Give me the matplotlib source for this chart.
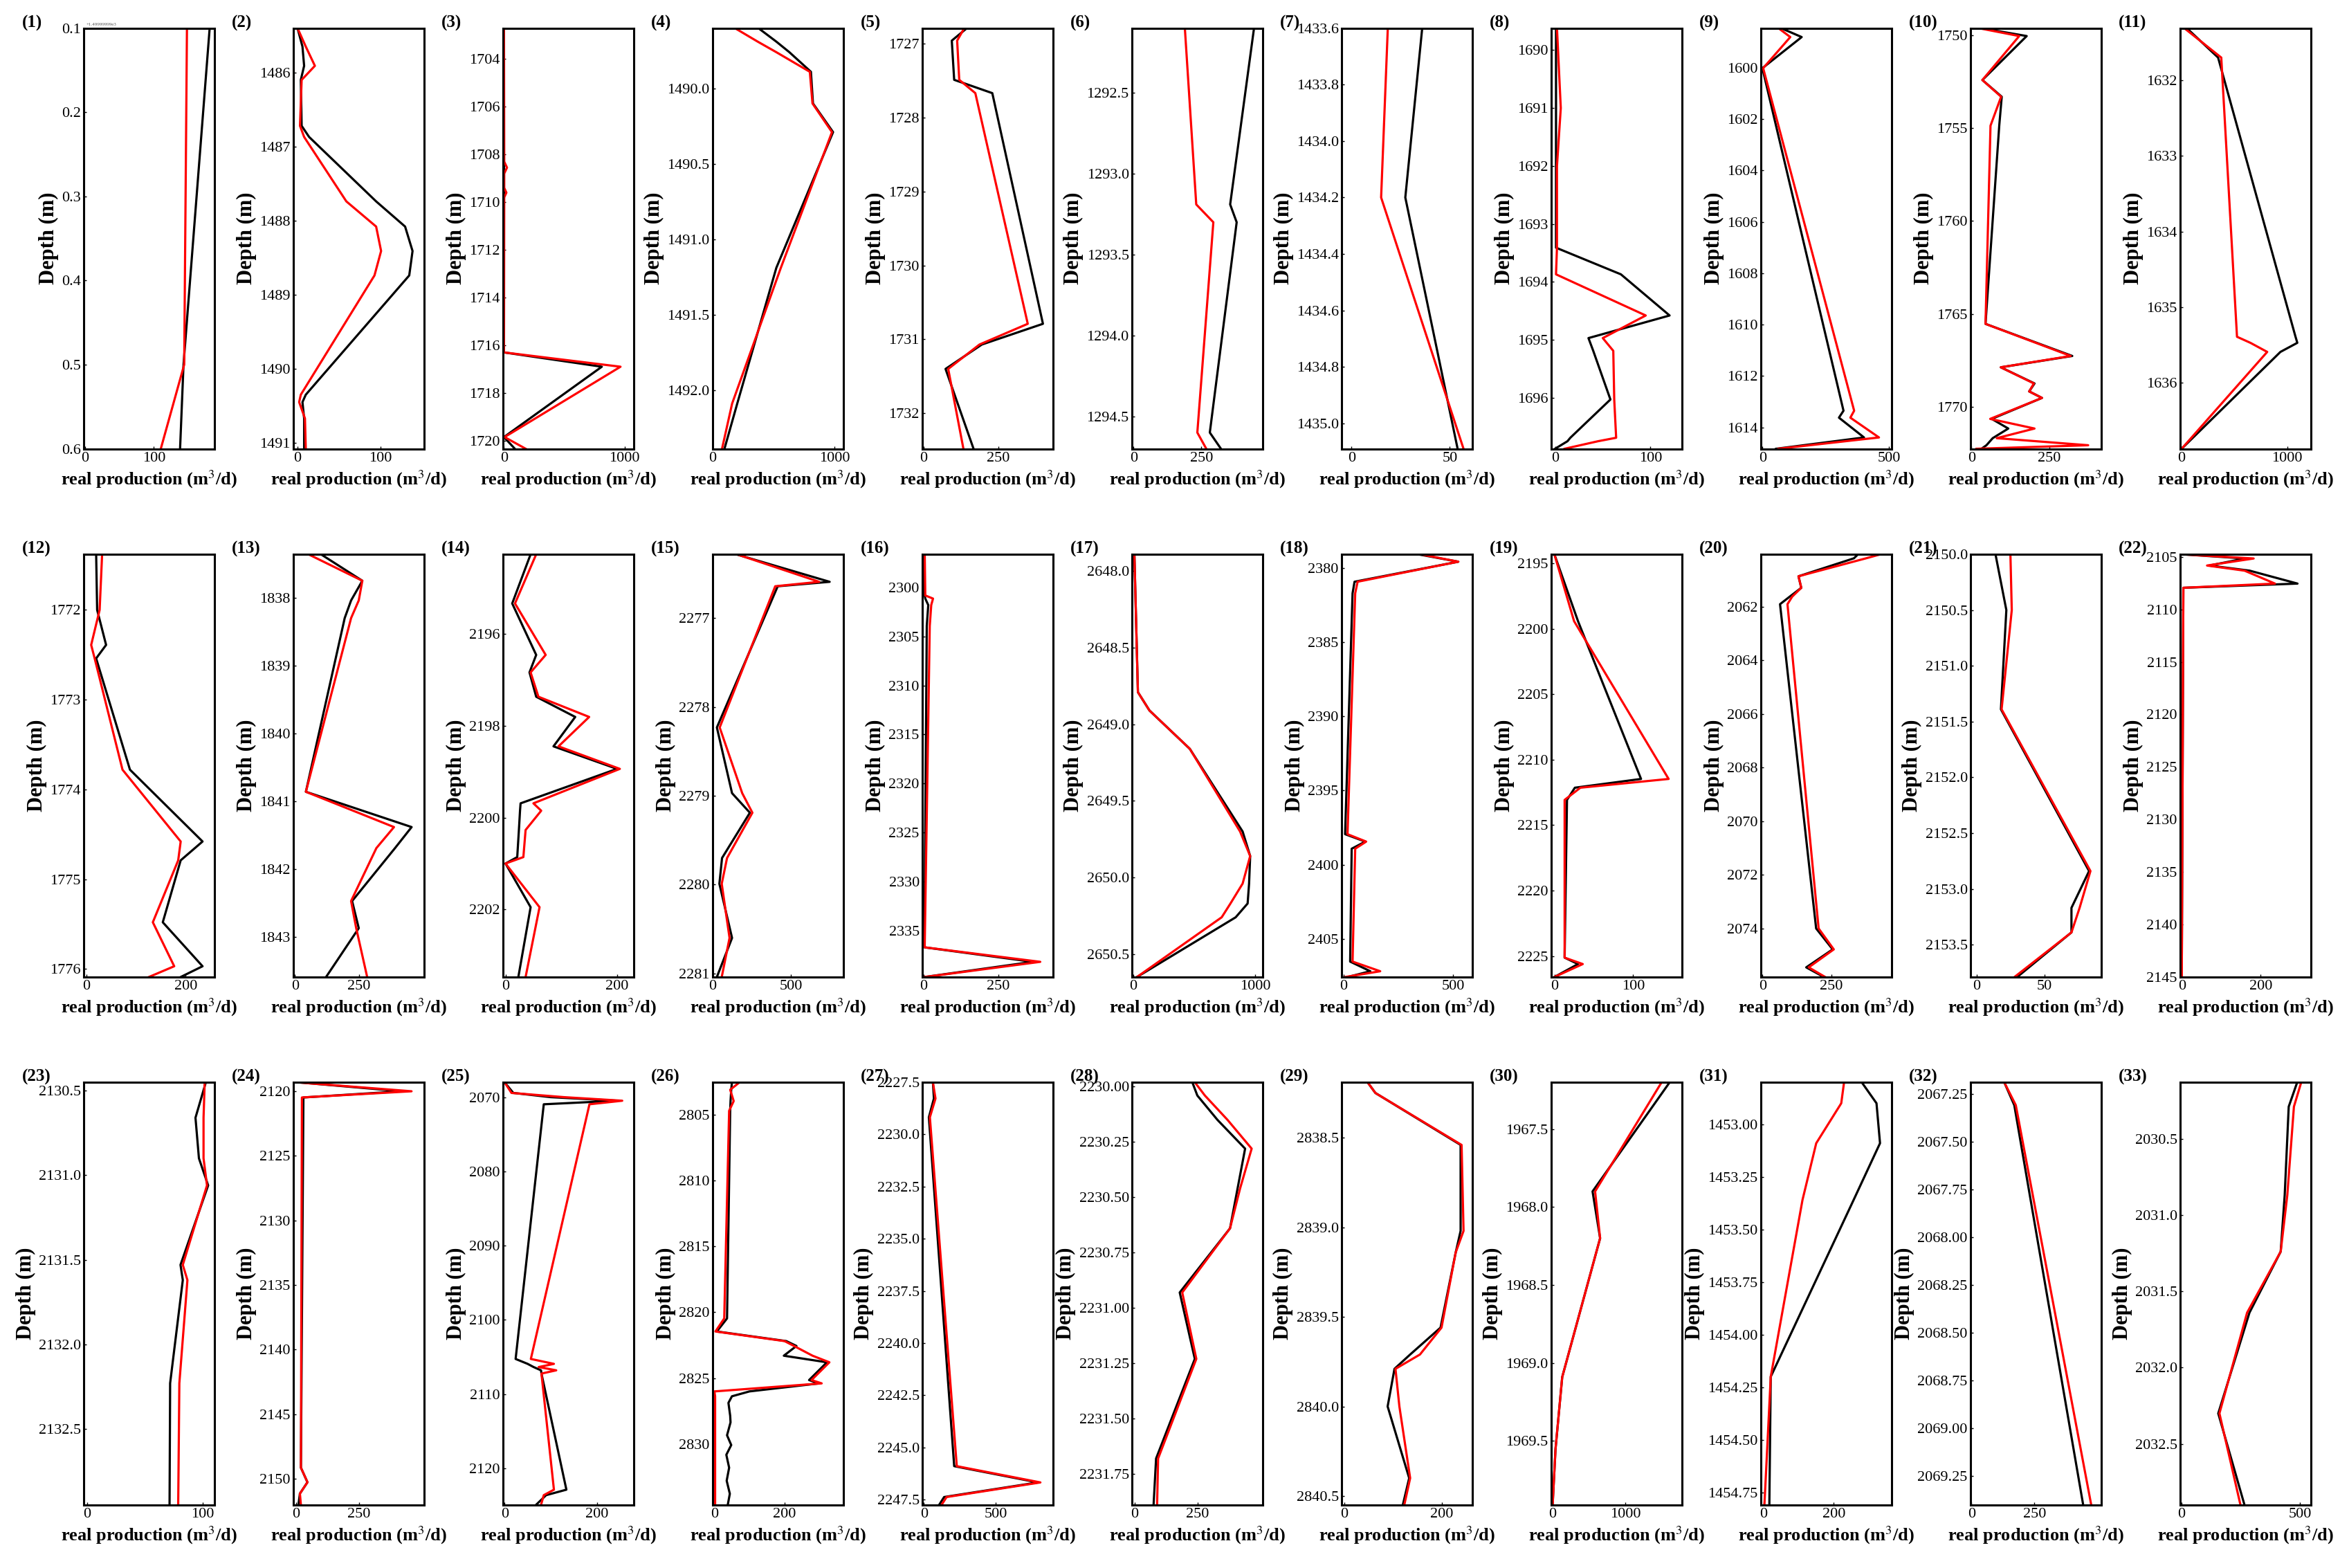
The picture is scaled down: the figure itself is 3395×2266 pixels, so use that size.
import numpy as np
import matplotlib
matplotlib.use('Agg')
import matplotlib.pyplot as plt
from matplotlib.ticker import FormatStrFormatter

plt.rcParams['font.family'] = ['Liberation Serif', 'DejaVu Serif']
plt.rcParams['mathtext.fontset'] = 'stix'

# depth (m), black curve, red curve  -- one set per well
d1 = [0.1, 0.5, 0.6]
b1 = [181, 143, 138]
r1 = [148, 144, 110]

d2 = [1485.40, 1485.65, 1485.91, 1486.10, 1486.72, 1486.87, 1487.74, 1488.08, 1488.41, 1488.74, 1490.35, 1490.45, 1490.67, 1491.08]
b2 = [0, 6, 8, 4, 5, 14, 95, 130, 139, 135, 10, 6, 8, 8]
r2 = [0, 10, 21, 5, 3, 8, 59, 95, 101, 93, 4, 2, 9, 10]

d3 = [1702.70, 1708.3, 1708.55, 1708.8, 1709.4, 1709.6, 1709.8, 1716.3, 1716.9, 1719.85, 1720.34]
b3 = [0, 0, 0, 0, 0, 0, 0, 0, 811, 0, 90]
r3 = [0, 2, 25, 2, 2, 20, 2, 0, 966, 5, 180]

d4 = [1489.60, 1489.69, 1489.76, 1489.89, 1490.10, 1490.29, 1491.19, 1492.09, 1492.39]
b4 = [375, 523, 630, 807, 824, 989, 523, 202, 97]
r4 = [182, 370, 523, 798, 820, 980, 560, 160, 77]

d5 = [1726.79, 1726.96, 1727.49, 1727.67, 1730.79, 1731.07, 1731.40, 1732.48]
b5 = [145, 94, 102, 230, 400, 195, 73, 167]
r5 = [136, 112, 119, 173, 349, 187, 82, 133]

d6 = [1292.10, 1293.19, 1293.30, 1294.60, 1294.70]
b6 = [444, 356, 380, 281, 322]
r6 = [189, 231, 294, 235, 268]

d7 = [1433.6, 1434.2, 1435.09]
b7 = [36, 27.4, 54]
r7 = [18.5, 15.1, 57]

d8 = [1689.62, 1691.0, 1692.0, 1693.41, 1693.87, 1694.58, 1694.97, 1695.19, 1696.03, 1696.69, 1696.75, 1696.88]
b8 = [1, 1, 1, 1, 69, 120, 35, 40, 58, 16, 13, 0]
r8 = [2, 6, 2, 2, 1, 95, 50, 61, 62, 64, 45, 10]

d9 = [1598.46, 1598.81, 1600.02, 1613.35, 1613.62, 1614.39, 1614.83]
b9 = [73, 155, 0, 320, 302, 401, 54]
r9 = [63, 110, 3, 362, 347, 460, 63]

d10 = [1749.60, 1750.03, 1752.40, 1753.30, 1754.86, 1765.54, 1767.27, 1767.88, 1768.75, 1769.18, 1769.53, 1770.66, 1771.18, 1771.70, 1772.08, 1772.27]
b10 = [29, 177, 35, 97, 89, 45, 323, 94, 202, 185, 226, 65, 118, 68, 48, 32]
r10 = [22, 153, 35, 95, 61, 45, 318, 94, 200, 185, 226, 60, 202, 81, 374, 16]

d11 = [1631.31, 1631.70, 1635.39, 1635.47, 1635.59, 1636.87]
b11 = [48, 345, 1078, 1095, 935, 0]
r11 = [24, 375, 524, 651, 810, 0]

d12 = [1771.38, 1772.0, 1772.39, 1772.54, 1773.78, 1774.58, 1774.79, 1775.48, 1775.97, 1776.09]
b12 = [20, 22, 40, 20, 88, 234, 190, 154, 234, 190]
r12 = [32, 27, 10, 17, 73, 190, 185, 134, 177, 126]

d13 = [1837.36, 1837.75, 1838.04, 1838.30, 1840.86, 1841.38, 1841.69, 1842.47, 1842.87, 1843.59]
b13 = [102, 264, 220, 195, 43, 457, 392, 224, 250, 122]
r13 = [53, 264, 250, 220, 43, 388, 319, 220, 240, 283]

d14 = [2194.27, 2195.34, 2196.46, 2196.84, 2197.37, 2197.81, 2198.45, 2198.94, 2199.69, 2199.85, 2200.27, 2200.86, 2201.0, 2201.95, 2203.47]
b14 = [45, 12, 55, 43, 55, 125, 86, 200, 27, 26, 24, 21, 0, 45, 23]
r14 = [55, 17, 72, 45, 59, 150, 95, 205, 50, 64, 36, 32, 0, 61, 36]

d15 = [2276.28, 2276.59, 2276.64, 2278.23, 2278.97, 2279.19, 2279.70, 2279.99, 2280.60, 2281.04]
b15 = [150, 748, 416, 27, 124, 238, 60, 43, 124, 27]
r15 = [155, 681, 400, 45, 189, 254, 92, 58, 108, 58]

d16 = [2296.62, 2300.82, 2301.14, 2301.80, 2303.93, 2336.72, 2338.20, 2339.75]
b16 = [3, 3, 5, 15, 10, 2, 366, 2]
r16 = [3, 5, 31, 25, 20, 3, 391, 3]

d17 = [2647.89, 2648.79, 2648.91, 2649.16, 2649.70, 2649.86, 2650.04, 2650.17, 2650.26, 2650.65]
b17 = [8, 37, 132, 463, 897, 959, 950, 938, 840, 29]
r17 = [8, 37, 132, 463, 876, 959, 897, 797, 725, 29]

d18 = [2379.07, 2379.57, 2380.92, 2381.70, 2397.94, 2398.44, 2398.92, 2406.53, 2407.18, 2407.57]
b18 = [339, 523, 50, 41, 7, 99, 37, 30, 122, 18]
r18 = [351, 523, 64, 53, 18, 103, 53, 41, 167, 7]

d19 = [2194.31, 2199.42, 2211.47, 2212.14, 2213.07, 2225.12, 2225.61, 2226.60]
b19 = [0, 30, 110, 26, 16, 13, 30, 0]
r19 = [0, 25, 145, 33, 13, 13, 36, 0]

d20 = [2060.05, 2060.20, 2060.87, 2061.30, 2061.63, 2061.91, 2074.0, 2074.78, 2075.45, 2075.81]
b20 = [347, 332, 131, 141, 99, 64, 195, 255, 159, 223]
r20 = [429, 376, 131, 141, 108, 91, 204, 259, 168, 228]

d21 = [2150.0, 2150.5, 2151.39, 2152.84, 2153.17, 2153.39, 2153.79]
b21 = [14, 22, 18, 83, 70, 70, 30]
r21 = [25, 26, 18.5, 84, 76, 70, 28]

d22 = [2104.75, 2105.15, 2105.82, 2106.31, 2107.54, 2107.94, 2145.0]
b22 = [0, 160, 70, 172, 293, 4, 0]
r22 = [0, 182, 64, 159, 236, 4, 0]

d23 = [2130.45, 2130.66, 2130.90, 2131.06, 2131.53, 2131.62, 2132.23, 2132.95]
b23 = [103, 94, 97, 105, 81, 83, 72, 71.5]
r23 = [102, 101, 101, 104, 83, 87, 80, 79]

d24 = [2119.30, 2120.0, 2120.48, 2149.15, 2150.28, 2151.16, 2152.04]
b24 = [5, 420, 30, 20, 46, 16, 10]
r24 = [0, 460, 24, 20, 46, 16, 20]

d25 = [2067.99, 2069.43, 2070.0, 2070.48, 2070.96, 2105.27, 2105.93, 2106.36, 2106.80, 2107.24, 2122.88, 2123.62, 2124.94]
b25 = [0, 19, 100, 244, 85, 24, 50, 63, 79, 80, 134, 90, 68]
r25 = [0, 15, 129, 255, 184, 57, 107, 74, 112, 80, 107, 85, 79]

d26 = [2802.54, 2803.11, 2803.97, 2804.71, 2820.47, 2821.46, 2822.19, 2822.56, 2823.30, 2823.80, 2825.15, 2825.40,
       2826.01, 2826.38, 2826.88, 2827.86, 2828.36, 2829.34, 2830.08, 2830.82, 2831.80, 2832.79, 2833.78, 2834.63]
b26 = [50, 48, 46, 45, 36, 7, 205, 234, 198, 321, 270, 299, 100, 50, 40, 45, 46, 36, 48, 34, 42, 35, 44, 38]
r26 = [72, 45, 55, 42, 28, 3, 200, 227, 280, 328, 277, 306, 0, 2, 2, 2, 2, 2, 2, 2, 2, 2, 2, 2]

d27 = [2227.5, 2228.28, 2229.18, 2245.90, 2246.68, 2247.38, 2247.76]
b27 = [63, 70, 35, 211, 792, 141, 106]
r27 = [63, 81, 42, 229, 810, 158, 123]

d28 = [2229.98, 2230.04, 2230.15, 2230.28, 2230.46, 2230.64, 2230.93, 2231.23, 2231.68, 2231.89]
b28 = [230, 250, 330, 440, 410, 380, 180, 240, 86, 76]
r28 = [240, 280, 370, 466, 420, 380, 190, 246, 94, 90]

d29 = [2838.19, 2838.25, 2838.54, 2839.02, 2839.14, 2839.56, 2839.71, 2839.79, 2840.0, 2840.40, 2840.55]
b29 = [48, 64, 238, 238, 228, 197, 135, 103, 89, 133, 120]
r29 = [48, 64, 240, 244, 228, 199, 155, 105, 113, 135, 123]

d30 = [1967.20, 1967.90, 1968.20, 1969.09, 1969.55, 1969.91]
b30 = [1610, 549, 653, 132, 40, 0]
r30 = [1499, 584, 653, 132, 40, 0]

d31 = [1452.80, 1452.90, 1453.09, 1453.36, 1454.20, 1454.81]
b31 = [279, 321, 331, 256, 21, 17]
r31 = [229, 221, 150, 111, 21, 3]

d32 = [2067.19, 2067.31, 2069.40]
b32 = [130, 170, 444]
r32 = [130, 176, 476]

d33 = [2030.13, 2030.29, 2030.87, 2031.24, 2031.64, 2032.30, 2032.90]
b33 = [489, 453, 436, 419, 287, 155, 266]
r33 = [506, 475, 447, 419, 277, 160, 249]

# axis settings per panel
x_lims = [(-2, 188), (-5, 153), (-8, 1076), (0, 1074), (-5, 434), (-6, 476), (-5, 61.5), (-4, 133),
          (-6, 510), (-3, 416), (-14, 1224),
          (-5, 258), (-6, 506), (-4.5, 230), (0, 836), (-5, 434), (-12, 1062), (-9, 587), (-4, 162),
          (-5.5, 469), (-4.4, 92), (-4, 327),
          (-3, 110.5), (-10, 510), (-3.3, 280), (-5, 368), (-10.6, 898), (-10, 510), (-5, 262), (-19, 1779),
          (-7, 364), (-4, 516), (-6, 547)]
x_ticks = [100, 100, 1000, 1000, 250, 250, 50, 100, 500, 250, 1000,
           200, 250, 200, 500, 250, 1000, 500, 100, 250, 50, 200,
           100, 250, 200, 200, 500, 250, 200, 1000, 200, 250, 500]
y_steps = [0.1, 1, 2, 0.5, 1, 0.5, 0.2, 1, 2, 5, 1,
           1, 1, 2, 1, 5, 0.5, 5, 5, 2, 0.5, 5,
           0.5, 5, 10, 5, 2.5, 0.25, 0.5, 0.5, 0.25, 0.25, 0.5]
y_decs = [1, 0, 0, 1, 0, 1, 1, 0, 0, 0, 0,
          0, 0, 0, 0, 0, 1, 0, 0, 0, 1, 0,
          1, 0, 0, 0, 1, 2, 1, 1, 2, 2, 1]

panels = [(d1, b1, r1), (d2, b2, r2), (d3, b3, r3), (d4, b4, r4), (d5, b5, r5), (d6, b6, r6),
          (d7, b7, r7), (d8, b8, r8), (d9, b9, r9), (d10, b10, r10), (d11, b11, r11),
          (d12, b12, r12), (d13, b13, r13), (d14, b14, r14), (d15, b15, r15), (d16, b16, r16),
          (d17, b17, r17), (d18, b18, r18), (d19, b19, r19), (d20, b20, r20), (d21, b21, r21),
          (d22, b22, r22), (d23, b23, r23), (d24, b24, r24), (d25, b25, r25), (d26, b26, r26),
          (d27, b27, r27), (d28, b28, r28), (d29, b29, r29), (d30, b30, r30), (d31, b31, r31),
          (d32, b32, r32), (d33, b33, r33)]

fig = plt.figure(figsize=(33.95, 22.66), dpi=100)
row_bottoms = [0.7138, 0.3769, 0.0402]
row_heights = [0.2683, 0.2696, 0.2696]

for i, (d, b, r) in enumerate(panels):
    row, col = divmod(i, 11)
    ax = fig.add_axes([(121 + col * 303) / 3395, row_bottoms[row], 189 / 3395, row_heights[row]])
    ax.plot(b, d, color='black', lw=2.3)
    ax.plot(r, d, color='red', lw=2.3)

    ax.set_ylim(d[-1], d[0])
    ax.set_xlim(*x_lims[i])
    ax.set_xticks([0, x_ticks[i]])
    step = y_steps[i]
    lo = np.ceil(d[0] / step - 1e-6) * step
    hi = np.floor(d[-1] / step + 1e-6) * step
    ax.set_yticks(np.round(np.arange(lo, hi + step / 2, step), 6))
    ax.yaxis.set_major_formatter(FormatStrFormatter('%.{}f'.format(y_decs[i])))
    ax.tick_params(direction='in', length=3, width=1, labelsize=16, pad=3)

    for s in ax.spines.values():
        s.set_linewidth(2.2)

    ax.set_ylabel('Depth (m)', fontsize=22, fontweight='bold', labelpad=3)
    ax.set_xlabel('real production (m$^3$/d)', fontsize=19, fontweight='bold')
    ax.text(-0.47, 1.012, '({})'.format(i + 1), transform=ax.transAxes,
            ha='left', va='center', fontsize=18, fontweight='bold')

    if i == 0:
        ax.text(0.02, 1.004, '+1.49999999e3', transform=ax.transAxes,
                ha='left', va='bottom', fontsize=5, color='#555555')

plt.savefig('out.png', dpi=100)
